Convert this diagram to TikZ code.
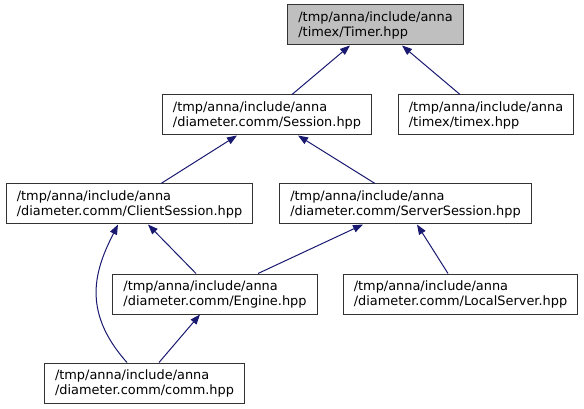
\documentclass[tikz,border=0pt]{standalone}
\usepackage{fontspec}
\usepackage{tikz}
\usetikzlibrary{arrows.meta, calc}
\usepackage{xcolor}
\newfontfamily\graphfont{DejaVu Sans}
\definecolor{midnight}{HTML}{191970}
\definecolor{curgray}{HTML}{BFBFBF}
\tikzset{
  filebox/.style={rectangle, draw=black!80, fill=#1, line width=0.75pt,
                  minimum height=30pt, inner xsep=7.9pt, inner ysep=0pt,
                  align=left, font=\graphfont\fontsize{9.675}{11.25}\selectfont},
  filebox/.default=white,
  arr/.style={-{Triangle[length=7.5pt, width=5.6pt]}, line width=0.75pt, draw=#1},
  arr/.default=midnight,
}

\begin{document}
\begin{tikzpicture}[x=0.75pt, y=-0.75pt]
\useasboundingbox (0,0) rectangle (584,409);

% files, top row first
\node[filebox=curgray] (timer)   at (375.5,25)  {/tmp/anna/include/anna\\/timex/Timer.hpp};
\node[filebox]         (session) at (267,115)   {/tmp/anna/include/anna\\/diameter.comm/Session.hpp};
\node[filebox]         (timex)   at (486,115)   {/tmp/anna/include/anna\\/timex/timex.hpp};
\node[filebox]         (client)  at (129.5,204) {/tmp/anna/include/anna\\/diameter.comm/ClientSession.hpp};
\node[filebox]         (server)  at (405.5,204) {/tmp/anna/include/anna\\/diameter.comm/ServerSession.hpp};
\node[filebox]         (engine)  at (215,294)   {/tmp/anna/include/anna\\/diameter.comm/Engine.hpp};
\node[filebox]         (local)   at (460.5,294) {/tmp/anna/include/anna\\/diameter.comm/LocalServer.hpp};
\node[filebox]         (comm)    at (144.5,383) {/tmp/anna/include/anna\\/diameter.comm/comm.hpp};

% include edges
\draw[arr] ($(session.north)+(25,0)$)   -- ($(timer.south)+(-25.5,0)$);
\draw[arr] ($(timex.north)+(-26,0)$)    -- ($(timer.south)+(26.5,0)$);
\draw[arr] ($(client.north)+(31.5,0)$)  -- ($(session.south)+(-30,0)$);
\draw[arr] ($(server.north)+(-30.5,0)$) -- ($(session.south)+(31,0)$);
\draw[arr] ($(engine.north)+(-19,0)$)   -- ($(client.south)+(18.5,0)$);
\draw[arr] ($(comm.north)+(-17.5,0)$) .. controls (80,310) and (96,268) .. ($(client.south)+(-11.5,0)$);
\draw[arr] ($(engine.north)+(43,0)$)    -- ($(server.south)+(-42.5,0)$);
\draw[arr] ($(local.north)+(-12.5,0)$)  -- ($(server.south)+(11.5,0)$);
\draw[arr] ($(comm.north)+(14.5,0)$)    -- ($(engine.south)+(-15,0)$);
\end{tikzpicture}
\end{document}
